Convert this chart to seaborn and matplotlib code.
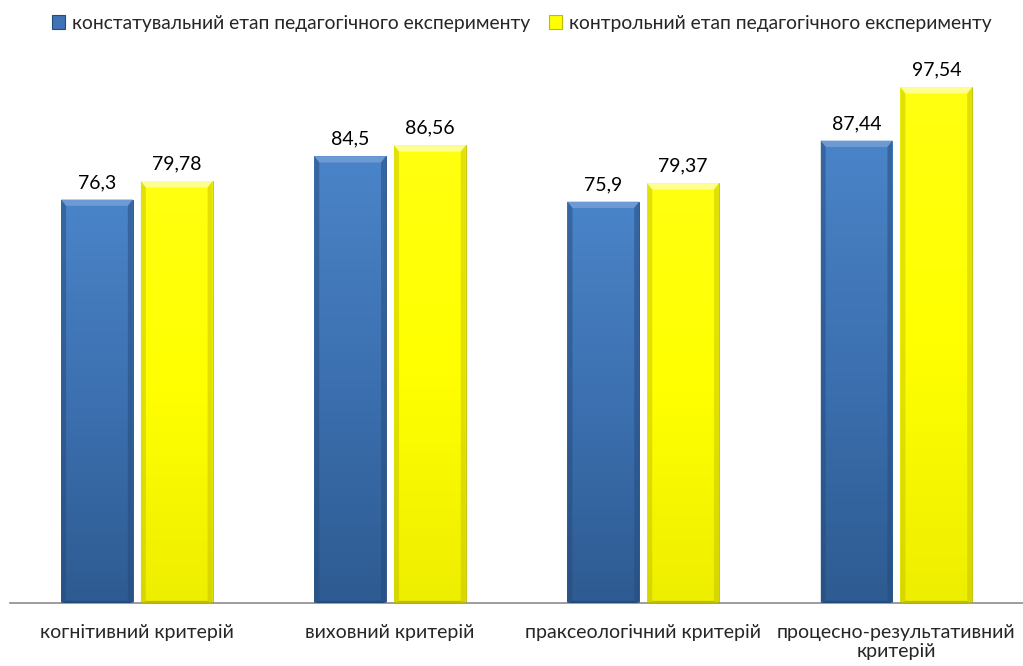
"""
Педагогічний експеримент — порівняння етапів за критеріями.
"""

import numpy as np
import pandas as pd
import matplotlib
matplotlib.use("Agg")
import matplotlib.pyplot as plt
import seaborn as sns
from matplotlib.colors import LinearSegmentedColormap
from matplotlib.patches import Polygon, Patch


CATEGORIES = ["когнітивний критерій", "виховний критерій",
              "праксеологічний критерій", "процесно-результативний\nкритерій"]
STAGES     = ["констатувальний етап педагогічного експерименту",
              "контрольний етап педагогічного експерименту"]
STAGE1     = [76.3, 84.5, 75.9, 87.44]
STAGE2     = [79.78, 86.56, 79.37, 97.54]
COLORS     = ["#3F73B5", "#FFFF00"]


# ── Data ───────────────────────────────────────────────────────────────────────
df = pd.DataFrame({
    "criterion": CATEGORIES * 2,
    "stage":     [STAGES[0]] * 4 + [STAGES[1]] * 4,
    "value":     STAGE1 + STAGE2,
})

sns.set_style("white")
plt.rcParams["font.family"] = ["Lato", "DejaVu Sans"]

fig = plt.figure(figsize=(10.23, 6.66), dpi=100)
ax = fig.add_axes([0.01, 0.0946, 0.99, 0.794])

sns.barplot(data=df, x="criterion", y="value", hue="stage", order=CATEGORIES,
            hue_order=STAGES, palette=COLORS, width=0.63, gap=0.1,
            errorbar=None, legend=False, ax=ax)

# ── Bevel look ─────────────────────────────────────────────────────────────────
grad = {
    COLORS[0]: LinearSegmentedColormap.from_list("b", ["#2E5B91", "#3C70B0", "#4A84C8"]),
    COLORS[1]: LinearSegmentedColormap.from_list("y", ["#EEEE00", "#FFFF00", "#FFFF10"]),
}
light = {COLORS[0]: "#6D9AD2", COLORS[1]: "#FFFF90"}
dark  = {COLORS[0]: "#254B7C", COLORS[1]: "#BDBD00"}
side_alpha = {COLORS[0]: 0.5, COLORS[1]: 0.45}

for i, p in enumerate(ax.patches):
    col = COLORS[0] if i < 4 else COLORS[1]
    x, y, w, h = p.get_x(), p.get_y(), p.get_width(), p.get_height()
    p.set_facecolor(col)
    p.set_edgecolor(dark[col])
    p.set_linewidth(0.6)
    # vertical shading: darker toward the bottom
    v = np.linspace(0, 1, 100)[:, None] * np.ones((1, 2))
    im = ax.imshow(v, cmap=grad[col], vmin=0, vmax=1, aspect="auto",
                   extent=[x, x + w, y, y + h], origin="lower", zorder=p.get_zorder())
    im.set_clip_path(p)
    # bevel edges
    b = w * 0.07
    bh = 1.2
    ax.add_patch(Polygon([[x, y + h], [x + w, y + h], [x + w - b, y + h - bh], [x + b, y + h - bh]],
                         closed=True, facecolor=light[col], edgecolor="none", zorder=3))
    ax.add_patch(Polygon([[x, y], [x, y + h], [x + b, y + h - bh], [x + b, y + 0.4]],
                         closed=True, facecolor=dark[col], edgecolor="none",
                         alpha=side_alpha[col], zorder=3))
    ax.add_patch(Polygon([[x + w, y], [x + w, y + h], [x + w - b, y + h - bh], [x + w - b, y + 0.4]],
                         closed=True, facecolor=dark[col], edgecolor="none",
                         alpha=side_alpha[col], zorder=3))
    ax.add_patch(Polygon([[x, y], [x + w, y], [x + w - b, y + 0.4], [x + b, y + 0.4]],
                         closed=True, facecolor=dark[col], edgecolor="none", zorder=3))
    ax.text(x + w / 2, y + h + 1.6, f"{h:g}".replace(".", ","),
            ha="center", va="bottom", fontsize=14, color="black")

# ── Axes ───────────────────────────────────────────────────────────────────────
ax.set_xlim(-0.5, 3.5)
ax.set_ylim(0, 100)
ax.set_yticks([])
ax.set_xlabel("")
ax.set_ylabel("")
for side in ["top", "right", "left"]:
    ax.spines[side].set_visible(False)
ax.spines["bottom"].set_color("#8C8C8C")
ax.spines["bottom"].set_linewidth(1.2)
ax.tick_params(axis="x", length=0, pad=15, labelsize=14)
for t in ax.get_xticklabels():
    t.set_linespacing(1.15)

# ── Legend ─────────────────────────────────────────────────────────────────────
handles = [Patch(facecolor=c, edgecolor=dark[c], linewidth=0.8) for c in COLORS]
fig.legend(handles, STAGES, loc="center", bbox_to_anchor=(0.51, 0.965), ncol=2,
           frameon=False, fontsize=13.85, handlelength=0.7, handleheight=0.7,
           handletextpad=0.35, columnspacing=0.95)

plt.savefig("out.png", dpi=100)
plt.close()
